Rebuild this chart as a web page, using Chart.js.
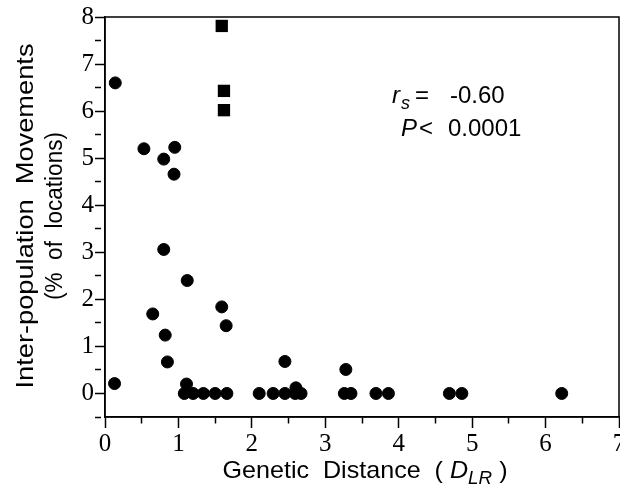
<!DOCTYPE html>
<html>
<head>
<meta charset="utf-8">
<script src="https://cdn.jsdelivr.net/npm/chart.js@4"></script>
<style>
    html, body { margin: 0; padding: 0; background: #fff; }
    #wrap { width: 620px; height: 494px; }
</style>
</head>
<body>
<div id="wrap"><canvas id="myChart" width="620" height="494"></canvas></div>
<script>
// Values
const circleX = [0.14, 0.13, 0.53, 0.80, 0.95, 0.94, 0.80, 1.12, 0.65, 0.82, 0.85, 1.11, 1.59, 1.65, 2.45, 3.28, 2.60,
    1.08, 1.20, 1.34, 1.50, 1.66, 2.10, 2.29, 2.45, 2.59, 2.67, 3.26, 3.35, 3.69, 3.86, 4.69, 4.86, 6.22];
const circleY = [6.60, 0.21, 5.20, 4.98, 5.23, 4.66, 3.06, 2.40, 1.69, 1.24, 0.67, 0.20, 1.84, 1.44, 0.68, 0.51, 0.12,
    0, 0, 0, 0, 0, 0, 0, 0, 0, 0, 0, 0, 0, 0, 0, 0, 0];
const squareX = [1.59, 1.62, 1.62];
const squareY = [7.81, 6.43, 6.02];

const xTicks = [0, 1, 2, 3, 4, 5, 6, 7];
const yTicks = [0, 1, 2, 3, 4, 5, 6, 7, 8];

const sans = '"Liberation Sans", Arial, sans-serif';
const serif = '"Liberation Serif", "Times New Roman", serif';

function toPoints(xs, ys) {
    return xs.map((x, i) => ({ x: x, y: ys[i] }));
}

function isMajor(v, list) {
    return list.some(t => Math.abs(t - v) < 1e-9);
}

// draw text pieces in a row, stretched to a given width, centred on x
function drawFitted(ctx, runs, x, y, width) {
    let total = 0;
    runs.forEach(r => { ctx.font = r.font; total += ctx.measureText(r.t).width; });
    const k = width / total;
    ctx.save();
    ctx.translate(x - width / 2, y);
    ctx.scale(k, 1);
    let cx = 0;
    runs.forEach(r => {
        ctx.font = r.font;
        ctx.fillText(r.t, cx, r.dy || 0);
        cx += ctx.measureText(r.t).width;
    });
    ctx.restore();
}

const framePlugin = {
    id: 'frame',
    afterDraw(chart) {
        const { ctx, chartArea } = chart;
        ctx.save();
        ctx.strokeStyle = '#000';
        ctx.lineWidth = 1.5;
        ctx.strokeRect(chartArea.left, chartArea.top, chartArea.right - chartArea.left, chartArea.bottom - chartArea.top);

        ctx.fillStyle = '#000';
        ctx.textBaseline = 'alphabetic';
        ctx.textAlign = 'left';

        // y axis title, two lines
        ctx.save();
        ctx.translate(33, 0);
        ctx.rotate(-Math.PI / 2);
        drawFitted(ctx, [{ t: 'Inter-population  Movements', font: '24px ' + sans }], -216, 0, 345);
        ctx.restore();
        ctx.save();
        ctx.translate(62, 0);
        ctx.rotate(-Math.PI / 2);
        drawFitted(ctx, [{ t: '(%  of  locations)', font: '23px ' + sans }], -216, 0, 168);
        ctx.restore();

        // x axis title with italic subscript
        drawFitted(ctx, [
            { t: 'Genetic  Distance  ( ', font: '24px ' + sans },
            { t: 'D', font: 'italic 24px ' + sans },
            { t: 'LR', font: 'italic 18px ' + sans, dy: 6 },
            { t: ' )', font: '24px ' + sans }
        ], 365, 478, 285);

        // correlation note
        ctx.font = 'italic 24px ' + sans;
        ctx.fillText('r', 392, 103);
        ctx.font = 'italic 18px ' + sans;
        ctx.fillText('s', 401, 109);
        ctx.font = '24px ' + sans;
        ctx.fillText('=', 415, 103);
        ctx.fillText('-0.60', 450, 103);
        ctx.font = 'italic 24px ' + sans;
        ctx.fillText('P', 401, 136);
        ctx.font = '24px ' + sans;
        ctx.fillText('<', 419, 136);
        ctx.fillText('0.0001', 448, 136);
        ctx.restore();
    }
};

const noPad = s => ({ left: 0, top: 0, right: 0, bottom: 0 });

const ctx = document.getElementById('myChart').getContext('2d');
const myChart = new Chart(ctx, {
    type: 'scatter',
    data: {
        datasets: [
            {
                data: toPoints(circleX, circleY),
                pointStyle: 'circle',
                pointRadius: 6,
                pointBorderWidth: 1,
                backgroundColor: '#000',
                borderColor: '#000'
            },
            {
                data: toPoints(squareX, squareY),
                pointStyle: 'rect',
                pointRadius: 8.7,
                pointBorderWidth: 0,
                backgroundColor: '#000',
                borderColor: '#000'
            }
        ]
    },
    options: {
        responsive: false,
        animation: false,
        layout: { autoPadding: false, padding: { top: 17, right: 1, left: 0, bottom: 0 } },
        plugins: {
            legend: { display: false },
            tooltip: { enabled: false }
        },
        scales: {
            x: {
                type: 'linear',
                min: 0,
                max: 7,
                afterFit: s => {
                    s.height = 77;
                    s.paddingLeft = 0; s.paddingRight = 0;
                    s.getPadding = noPad;
                },
                ticks: {
                    stepSize: 0.5,
                    autoSkip: false,
                    maxRotation: 0,
                    padding: 1,
                    color: '#000',
                    font: { family: serif, size: 25 },
                    callback: v => isMajor(v, xTicks) ? v : ''
                },
                grid: {
                    drawOnChartArea: false,
                    tickLength: 11,
                    tickWidth: 1.5,
                    tickColor: '#000',
                    tickBorderDash: c => (c.tick && !isMajor(c.tick.value, xTicks)) ? [6, 30] : []
                },
                border: { color: '#000', width: 1.5 }
            },
            y: {
                min: -0.5,
                max: 8,
                afterFit: s => {
                    s.width = 105;
                    s.paddingTop = 0; s.paddingBottom = 0;
                    s.getPadding = noPad;
                },
                ticks: {
                    stepSize: 0.5,
                    autoSkip: false,
                    padding: 1,
                    color: '#000',
                    font: { family: serif, size: 25 },
                    callback: v => isMajor(v, yTicks) ? v : ''
                },
                grid: {
                    drawOnChartArea: false,
                    tickLength: 10,
                    tickWidth: 1.5,
                    tickColor: '#000',
                    tickBorderDash: c => (c.tick && !isMajor(c.tick.value, yTicks)) ? [6, 30] : []
                },
                border: { color: '#000', width: 1.5 }
            }
        }
    },
    plugins: [framePlugin]
});
</script>
</body>
</html>
